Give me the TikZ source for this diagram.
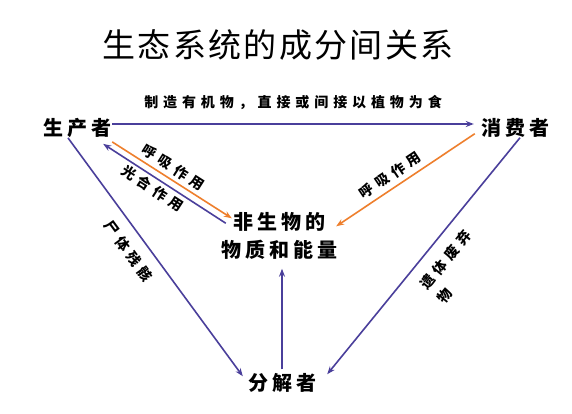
\documentclass[tikz,border=0pt]{standalone}
\usepackage{fontspec}
\newfontfamily\cjk{Noto Sans CJK SC}
\usetikzlibrary{arrows.meta,calc}
\definecolor{navy}{HTML}{4A3F9B}
\definecolor{org}{HTML}{EE7F2D}
\tikzset{
  titlefont/.style={font=\cjk\fontsize{33}{36}\selectfont\addfontfeature{LetterSpace=7}},
  comp/.style={font=\cjk\bfseries\fontsize{20}{28}\selectfont\addfontfeature{LetterSpace=20}, inner sep=1pt, align=center},
  elab/.style={font=\cjk\bfseries\fontsize{14}{22}\selectfont\addfontfeature{LetterSpace=35}, inner sep=1pt, sloped},
  toplab/.style={font=\cjk\bfseries\fontsize{14}{18}\selectfont\addfontfeature{LetterSpace=35}, inner sep=1pt},
  navyarr/.style={draw=navy, line width=1.6pt, -{Stealth[length=8pt,width=6pt]}},
  orgarr/.style={draw=org, line width=1.6pt, -{Stealth[length=8pt,width=6pt]}},
}
\begin{document}
\begin{tikzpicture}[x=1pt,y=-1pt]
\useasboundingbox[fill=white] (0,0) rectangle (572,414);
\node[titlefont] (title) at (278,45) {生态系统的成分间关系};
\node[comp] (prod) at (77,128) {生产者};
\node[comp] (cons) at (515,128) {消费者};
\node[comp] (abio) at (279,236) {非生物的\\物质和能量};
\node[comp] (deco) at (282,383) {分解者};
% top arrow
\draw[navyarr] ($(prod.east)+(0,-4)$) -- node[toplab, above=13pt] {制造有机物，直接或间接以植物为食} ($(cons.west)+(-6,-4)$);
% producer -> abiotic (respiration)
\draw[orgarr] ($(prod.south east)+(0,3)$) -- node[elab, pos=.46, above=3pt] {呼吸作用} ($(abio.north west)+(12,7)$);
% abiotic -> producer (photosynthesis)
\draw[navyarr, {Stealth[length=8pt,width=6pt]}-] ($(prod.south east)+(-9,5)$) -- node[elab, pos=.45, below=2pt] {光合作用} ($(abio.north west)+(6,12)$);
% consumer -> abiotic (respiration)
\draw[orgarr, {Stealth[length=8pt,width=6pt]}-] ($(abio.north east)+(-2,15)$) -- node[elab, pos=.44, above=4pt] {呼吸作用} ($(cons.south west)+(-5,-5)$);
% producer -> decomposer
\draw[navyarr] ($(prod.south)+(-9,-1)$) -- node[elab, pos=.43, below=10pt] {尸体残骸} ($(deco.north west)+(-4,4)$);
% consumer -> decomposer
\draw[navyarr, {Stealth[length=8pt,width=6pt]}-] ($(deco.north east)+(10,2)$) -- node[elab, align=left, pos=.535, below=11pt] {遗体废弃\\物} ($(cons.south)+(5,-1)$);
% decomposer -> abiotic
\draw[navyarr] ($(deco.north)+(0,-3)$) -- ($(deco.north |- abio.south)+(0,8)$);
\end{tikzpicture}
\end{document}
